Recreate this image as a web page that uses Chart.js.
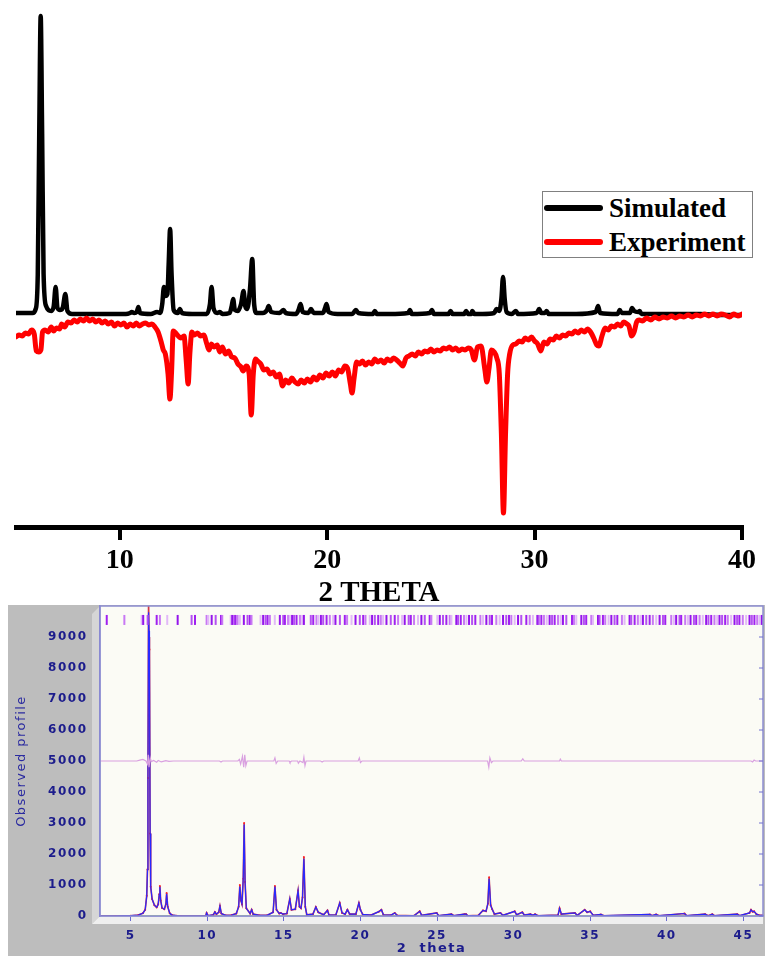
<!DOCTYPE html>
<html>
<head>
<meta charset="utf-8">
<script src="https://cdn.jsdelivr.net/npm/chart.js@4.4.1/dist/chart.umd.min.js"></script>
<style>
  body { margin: 0; background: #fff; }
  #wrap { position: relative; width: 765px; height: 956px; overflow: hidden; }
  #xrd { position: absolute; left: 0; top: 0; }
  #rietveld { position: absolute; left: 0; top: 605px; }
  #leyenda {
    position: absolute; left: 542px; top: 191px; width: 209px; height: 65px;
    border: 1px solid #808080; background: #fff;
    font: bold 27px 'Liberation Serif', serif; color: #000;
  }
  #leyenda .fila { position: absolute; left: 0; height: 32px; line-height: 32px; white-space: nowrap; }
  #leyenda .muestra { position: absolute; left: 1px; top: 13px; width: 59px; height: 6px; border-radius: 3px; }
  #leyenda .texto { position: absolute; left: 66px; top: 0; }
</style>
</head>
<body>
<div id="wrap">
  <canvas id="xrd" width="765" height="612"></canvas>
  <div id="leyenda"></div>
  <canvas id="rietveld" width="765" height="351"></canvas>
</div>
<script>
// ---------- grafico de arriba: simulado vs experimental ----------
const simX = [
  5.0,5.8,5.95,6.05,6.12,6.19,6.26,6.33,6.45,6.7,
  6.82,6.91,7.0,7.12,7.25,7.38,7.48,7.7,8.5,9.5,
  10.3,10.5,10.58,10.7,10.82,10.9,10.98,11.5,11.8,11.95,
  12.05,12.13,12.2,12.3,12.36,12.43,12.5,12.6,12.8,12.9,
  13.0,13.5,14.2,14.35,14.43,14.52,14.7,14.83,14.95,15.3,
  15.4,15.47,15.55,15.7,15.85,15.97,16.05,16.15,16.28,16.39,
  16.48,16.6,16.9,17.1,17.18,17.3,17.7,17.9,18.0,18.5,
  18.62,18.72,18.82,19.1,19.22,19.35,19.8,19.9,19.97,20.07,
  20.5,21.2,21.3,21.39,21.5,22.2,22.3,22.4,23.0,23.9,
  23.99,24.08,24.95,25.05,25.15,25.85,25.95,26.05,26.6,26.7,
  26.8,26.95,27.0,27.1,27.5,28.05,28.17,28.3,28.4,28.48,
  28.56,28.65,28.9,29.1,29.2,30.1,30.22,30.32,30.5,30.58,
  30.68,31.5,32.0,32.95,33.06,33.16,34.0,34.11,34.2,34.6,
  34.7,34.8,35.0,35.07,35.15,36.0,37.0,38.0,39.0,40.0
];
const simY = [
  1,1,5,40,180,298,180,40,8,3,
  8,27,6,4,6,20,3,0,0,0,
  0,1,2,1,2,7,1,0,2,1,
  10,27,18,20,50,85,40,4,1,5,
  1,0,0,10,27,6,1,2,0,1,
  8,15,4,3,10,23,8,5,25,55,
  10,1,1,4,8,2,1,4,1,0,
  4,10,2,1,5,1,1,6,10,2,
  0,0,2,4,1,0,3,0,0,1,
  4,0,1,4,0,0,3,0,0,3,
  0,0,3,0,0,1,5,3,15,37,
  15,2,0,3,0,1,5,1,1,3,
  0,0,0,2,8,1,0,4,1,1,
  6,3,2,3,0,0,0,0,-1,-1
];
const expX = [
  5.0,5.15,5.3,5.45,5.6,5.75,5.88,5.98,6.1,6.2,
  6.28,6.4,6.55,6.7,6.82,6.95,7.1,7.2,7.35,7.5,
  7.65,7.8,7.95,8.1,8.25,8.4,8.55,8.7,8.85,9.0,
  9.15,9.3,9.45,9.6,9.75,9.9,10.05,10.2,10.35,10.5,
  10.65,10.8,10.95,11.1,11.25,11.4,11.55,11.7,11.85,12.0,
  12.1,12.2,12.33,12.42,12.5,12.58,12.7,12.82,12.95,13.1,
  13.2,13.3,13.38,13.48,13.6,13.75,13.9,14.05,14.2,14.3,
  14.42,14.55,14.7,14.82,14.95,15.1,15.25,15.4,15.55,15.7,
  15.85,15.95,16.1,16.24,16.34,16.44,16.55,16.65,16.8,16.95,
  17.1,17.25,17.4,17.55,17.7,17.85,18.0,18.15,18.3,18.45,
  18.6,18.75,18.9,19.05,19.2,19.35,19.5,19.65,19.8,19.95,
  20.1,20.25,20.4,20.55,20.7,20.85,20.98,21.12,21.2,21.3,
  21.42,21.55,21.7,21.85,22.0,22.15,22.3,22.45,22.6,22.75,
  22.9,23.05,23.2,23.35,23.5,23.65,23.8,23.95,24.1,24.25,
  24.4,24.55,24.7,24.85,25.0,25.15,25.3,25.45,25.6,25.75,
  25.9,26.05,26.2,26.35,26.5,26.65,26.8,26.95,27.1,27.25,
  27.42,27.6,27.7,27.8,27.92,28.05,28.18,28.3,28.4,28.5,
  28.6,28.7,28.8,28.95,29.1,29.25,29.4,29.55,29.7,29.85,
  30.0,30.15,30.3,30.45,30.6,30.75,30.9,31.05,31.2,31.35,
  31.5,31.65,31.8,31.95,32.1,32.25,32.4,32.55,32.7,32.85,
  33.0,33.1,33.25,33.4,33.55,33.7,33.85,34.0,34.15,34.3,
  34.45,34.55,34.68,34.8,34.92,35.05,35.2,35.4,35.6,35.8,
  36.0,36.2,36.4,36.6,36.8,37.0,37.2,37.4,37.6,37.8,
  38.0,38.2,38.4,38.6,38.8,39.0,39.2,39.4,39.6,39.8,
  40.0
];
const expY = [
  -23,-21,-22,-19,-20,-16,-20,-37,-38,-36,
  -18,-16,-18,-13,-17,-14,-15,-10,-13,-8,
  -9,-6,-8,-5,-7,-4,-7,-5,-8,-6,
  -9,-7,-10,-8,-12,-9,-11,-9,-13,-10,
  -12,-9,-12,-10,-9,-11,-10,-13,-18,-28,
  -36,-40,-60,-85,-58,-17,-19,-22,-24,-22,
  -45,-70,-40,-18,-21,-19,-22,-21,-30,-36,
  -30,-33,-31,-38,-33,-40,-37,-43,-44,-50,
  -53,-57,-52,-60,-101,-60,-45,-47,-50,-56,
  -55,-60,-58,-63,-60,-72,-66,-69,-64,-68,
  -70,-66,-69,-65,-68,-63,-66,-61,-64,-59,
  -62,-58,-62,-56,-58,-52,-54,-70,-79,-64,
  -48,-50,-47,-51,-48,-50,-45,-48,-46,-49,
  -45,-47,-44,-46,-49,-52,-44,-42,-40,-42,
  -38,-40,-37,-38,-35,-38,-36,-37,-34,-35,
  -33,-36,-34,-37,-35,-36,-34,-36,-46,-33,
  -32,-55,-68,-55,-36,-38,-44,-60,-120,-199,
  -120,-60,-40,-31,-30,-27,-28,-24,-26,-23,
  -27,-30,-37,-28,-30,-25,-26,-22,-24,-21,
  -22,-19,-20,-17,-19,-16,-18,-15,-18,-24,
  -31,-32,-22,-14,-16,-12,-13,-10,-12,-8,
  -10,-12,-22,-18,-8,-6,-7,-4,-6,-3,
  -5,-3,-4,-2,-4,-2,-3,-1,-3,-1,
  -2,0,-2,0,-2,0,-1,-3,0,-2,
  0
];
const xTicksTop = [10, 20, 30, 40];

// ---------- grafico de abajo: refinamiento ----------
const profX = [
  3.0,4.0,5.0,5.5,5.8,5.95,6.05,6.1,6.13,6.17,
  6.2,6.23,6.27,6.31,6.4,6.55,6.7,6.8,6.87,6.91,
  6.96,7.05,7.2,7.3,7.35,7.42,7.55,7.7,8.0,8.3,
  9.9,9.96,10.05,10.4,10.5,10.6,10.75,10.83,10.92,11.2,
  11.6,11.9,12.05,12.13,12.2,12.27,12.35,12.41,12.47,12.55,
  12.8,12.9,13.0,13.4,13.9,14.3,14.42,14.52,14.7,14.8,
  14.95,15.2,15.39,15.5,15.75,15.93,16.02,16.12,16.22,16.31,
  16.4,16.5,16.9,17.09,17.25,17.6,17.85,17.95,18.4,18.65,
  18.8,19.0,19.15,19.3,19.7,19.9,20.0,20.15,20.7,21.2,
  21.37,21.5,22.0,22.24,22.4,23.5,23.87,24.0,24.98,25.1,
  25.94,26.1,26.8,26.9,27.0,27.7,28.0,28.2,28.32,28.4,
  28.5,28.6,28.75,29.14,29.3,30.07,30.2,30.57,30.7,31.1,
  31.25,31.4,31.6,32.9,33.0,33.12,34.0,34.15,34.64,34.8,
  35.0,35.2,35.7,35.9,38.9,39.05,39.3,39.5,41.16,41.3,
  42.5,42.7,42.97,43.1,44.6,44.75,45.4,45.5,45.6,45.7,
  45.85,46.0,46.28
];
const obsY = [
  0,0,10,30,90,200,650,1500,4450,10200,
  9000,8600,2660,945,550,350,280,380,700,970,
  500,260,220,380,740,300,90,30,10,0,
  0,100,10,40,130,60,120,320,80,20,
  30,80,300,1000,500,380,1200,3000,1100,250,
  80,200,60,20,20,120,970,200,80,100,
  60,80,550,200,220,820,300,250,600,1900,
  300,40,60,290,120,40,180,30,40,420,
  100,60,200,60,60,420,200,50,30,140,
  200,40,30,100,20,10,150,20,100,10,
  60,10,60,60,10,20,180,150,400,1250,
  350,220,60,100,20,150,40,120,30,60,
  20,60,10,30,250,60,100,20,200,120,
  150,20,50,10,50,10,50,10,80,10,
  60,10,60,10,60,10,100,200,140,150,
  60,30,20
];
const calcY = [
  0,0,10,30,90,200,650,1500,4450,9800,
  9200,8400,2660,945,550,350,280,380,700,940,
  500,260,220,380,720,300,90,30,10,0,
  0,100,10,40,130,60,120,320,80,20,
  30,80,300,950,500,380,1200,2950,1100,250,
  80,200,60,20,20,120,950,200,80,100,
  60,80,550,200,220,820,300,250,600,1850,
  300,40,60,290,120,40,180,30,40,420,
  100,60,200,60,60,420,200,50,30,140,
  200,40,30,100,20,10,150,20,100,10,
  60,10,60,60,10,20,180,150,400,1200,
  350,220,60,100,20,150,40,120,30,60,
  20,60,10,30,250,60,100,20,200,120,
  150,20,50,10,50,10,50,10,80,10,
  60,10,60,10,60,10,100,200,140,150,
  60,30,20
];
const diffX = [
  3,5.4,5.6,5.8,6.0,6.1,6.15,6.2,6.28,6.35,
  6.5,6.7,6.8,7.0,7.3,7.5,7.8,10.8,10.9,11.0,
  12.0,12.1,12.18,12.3,12.38,12.45,12.52,12.6,14.35,14.42,
  14.5,14.6,15.35,15.4,15.5,15.9,15.95,16.05,16.25,16.31,
  16.38,16.45,17.4,17.5,17.6,19.85,19.93,20.0,20.1,28.3,
  28.38,28.45,28.55,28.65,30.5,30.6,30.7,33.0,33.05,33.12,
  45.5,45.6,45.7,45.8,46.28
];
const diffY = [
  5000,5000,5030,5050,5000,4900,5200,4800,5100,4980,
  5020,4960,5020,4970,5010,4990,5000,5000,4970,5000,
  5000,5050,4900,5150,4800,5200,4850,5000,5000,5100,
  4920,5000,5000,4950,5000,5000,4930,5000,4950,5120,
  4850,5000,5000,4970,5000,5000,5100,4950,5000,5000,
  4800,5100,4950,5000,5000,5070,5000,5000,5060,5000,
  5000,4970,5030,5000,5000
];
const bgX = [3, 46.28];
const bgY = [0, 0];
// posiciones de reflexiones (marcas de arriba)
const reflPos = [
  3.44,4.59,5.72,5.82,6.11,6.70,6.91,7.39,8.07,8.98,9.20,9.96,10.07,10.29,10.55,10.90,10.98,
  11.53,11.63,11.76,11.85,11.98,12.13,12.39,12.63,12.78,12.89,13.48,13.65,13.81,13.94,14.09,
  14.41,14.74,14.96,15.07,15.28,15.39,15.54,15.67,15.83,16.05,16.20,16.31,16.76,16.92,
  17.13,17.24,17.42,17.57,17.79,18.0,18.22,18.37,18.66,18.98,19.13,19.42,19.68,19.96,20.18,
  20.33,20.61,20.76,20.94,21.16,21.33,21.48,21.70,21.98,22.24,22.46,22.72,22.89,23.15,23.29,
  23.50,23.76,23.98,24.20,24.52,24.63,25.02,25.18,25.39,25.61,25.83,25.94,26.26,26.37,26.55,
  26.76,26.92,27.09,27.29,27.50,27.83,28.0,28.22,28.44,28.59,28.87,29.09,29.31,29.52,29.70,
  29.85,30.07,30.29,30.50,30.83,31.05,31.26,31.55,31.64,31.81,31.98,32.16,32.35,32.51,32.68,
  32.90,33.07,33.22,33.44,33.81,33.94,34.09,34.42,34.59,34.74,35.07,35.18,35.51,35.61,35.83,
  35.98,36.20,36.38,36.59,36.77,37.07,37.24,37.57,37.68,37.90,38.11,38.29,38.44,38.66,38.88,
  39.09,39.31,39.53,39.75,39.90,40.29,40.46,40.61,40.83,40.94,41.20,41.38,41.55,41.77,41.92,
  42.14,42.35,42.57,42.72,42.90,43.11,43.29,43.44,43.61,43.81,43.98,44.20,44.42,44.59,44.74,
  44.96,45.18,45.40,45.55,45.72,45.90,46.05,46.20
];
const reflLevel = 9550;
const xTicksBottom = [5, 10, 15, 20, 25, 30, 35, 40, 45];
const yTicksBottom = [0, 1000, 2000, 3000, 4000, 5000, 6000, 7000, 8000, 9000];

const puntos = (xs, ys) => xs.map((x, i) => ({ x: x, y: ys[i] }));
// sin relleno extra alrededor de los ejes
const sinRelleno = (s) => { s.paddingTop = 0; s.paddingBottom = 0; s.paddingLeft = 0; s.paddingRight = 0; };

// ===== grafico 1 =====
const serif = 'Liberation Serif';
const grafico1 = new Chart(document.getElementById('xrd'), {
  type: 'scatter',
  data: {
    datasets: [
      {
        label: 'Simulated',
        data: puntos(simX, simY),
        showLine: true,
        borderColor: '#000000',
        borderWidth: 4.5,
        pointRadius: 0,
        cubicInterpolationMode: 'monotone',
        borderCapStyle: 'round',
        borderJoinStyle: 'round',
        order: 2
      },
      {
        label: 'Experiment',
        data: puntos(expX, expY),
        showLine: true,
        borderColor: '#ff0000',
        borderWidth: 5,
        pointRadius: 0,
        cubicInterpolationMode: 'monotone',
        borderCapStyle: 'round',
        borderJoinStyle: 'round',
        order: 1
      }
    ]
  },
  options: {
    responsive: false,
    animation: false,
    events: [],
    layout: { autoPadding: false, padding: { left: 16, right: 23, top: 10, bottom: 0 } },
    plugins: { legend: { display: false }, tooltip: { enabled: false } },
    scales: {
      x: {
        type: 'linear',
        min: 5,
        max: 40,
        afterBuildTicks: (s) => { s.ticks = xTicksTop.map(v => ({ value: v })); },
        afterFit: (s) => { s.height = 85; sinRelleno(s); },
        border: { display: true, color: '#000', width: 5 },
        grid: { drawOnChartArea: false, drawTicks: true, tickLength: 13, lineWidth: 4, color: '#000' },
        ticks: { color: '#000', padding: 4, font: { family: serif, weight: 'bold', size: 28 } },
        title: {
          display: true, text: '2 THETA', color: '#000',
          padding: { top: 0, bottom: 1 },
          font: { family: serif, weight: 'bold', size: 29 }
        }
      },
      y: { display: false, min: -213, max: 304 }
    }
  }
});

// leyenda en html, armada con los datos del grafico
const leyenda = document.getElementById('leyenda');
grafico1.data.datasets.forEach((ds, i) => {
  const fila = document.createElement('div');
  fila.className = 'fila';
  fila.style.top = (i * 34) + 'px';
  const muestra = document.createElement('span');
  muestra.className = 'muestra';
  muestra.style.background = ds.borderColor;
  const texto = document.createElement('span');
  texto.className = 'texto';
  texto.textContent = ds.label;
  fila.appendChild(muestra);
  fila.appendChild(texto);
  leyenda.appendChild(fila);
});

// ===== grafico 2 =====
const azul = '#1c1c8c';
const fondo3D = {
  id: 'fondo3D',
  beforeDraw(chart) {
    const { ctx, width, height, chartArea: a } = chart;
    ctx.save();
    ctx.fillStyle = '#bdbdbd';
    ctx.fillRect(8, 0, width - 8, height);
    // pared izquierda
    ctx.fillStyle = '#d6d6d6';
    ctx.beginPath();
    ctx.moveTo(a.left - 8, a.top + 8);
    ctx.lineTo(a.left, a.top);
    ctx.lineTo(a.left, a.bottom);
    ctx.lineTo(a.left - 8, a.bottom + 8);
    ctx.closePath();
    ctx.fill();
    // piso
    ctx.fillStyle = '#efefef';
    ctx.beginPath();
    ctx.moveTo(a.left, a.bottom);
    ctx.lineTo(a.right, a.bottom);
    ctx.lineTo(a.right, a.bottom + 8);
    ctx.lineTo(a.left - 8, a.bottom + 8);
    ctx.closePath();
    ctx.fill();
    ctx.fillStyle = '#fbfbf5';
    ctx.fillRect(a.left, a.top, a.right - a.left, a.bottom - a.top);
    ctx.restore();
    ctx.letterSpacing = '1.5px';
  },
  afterDraw(chart) {
    const { ctx, chartArea: a, scales } = chart;
    ctx.save();
    ctx.strokeStyle = '#8c8cd0';
    ctx.lineWidth = 1.5;
    ctx.strokeRect(a.left, a.top, a.right - a.left, a.bottom - a.top);
    ctx.strokeStyle = '#7070d0';
    ctx.lineWidth = 1;
    yTicksBottom.forEach(v => {
      const y = scales.y.getPixelForValue(v);
      ctx.beginPath();
      ctx.moveTo(a.right - 4, y);
      ctx.lineTo(a.right, y);
      ctx.stroke();
    });
    ctx.restore();
  }
};

const coloresMarca = ['#a020f0', '#c878f4', '#e2b8f8', '#9414ec', '#b450f2'];

const grafico2 = new Chart(document.getElementById('rietveld'), {
  type: 'scatter',
  data: {
    datasets: [
      {
        label: 'reflexiones',
        data: reflPos.map(x => ({ x: x, y: reflLevel })),
        pointStyle: 'line',
        rotation: 90,
        radius: 5,
        borderWidth: 2,
        borderColor: (c) => coloresMarca[c.dataIndex % coloresMarca.length],
        order: 0
      },
      {
        label: 'diferencia',
        data: puntos(diffX, diffY),
        showLine: true,
        pointRadius: 0,
        borderColor: '#d9a0e0',
        borderWidth: 1.2,
        order: 1
      },
      {
        label: 'calculado',
        data: puntos(profX, calcY),
        showLine: true,
        pointRadius: 0,
        borderColor: '#2828ff',
        borderWidth: 1.2,
        order: 2
      },
      {
        label: 'observado',
        data: puntos(profX, obsY),
        showLine: true,
        pointRadius: 1,
        pointBackgroundColor: '#ff2020',
        pointBorderWidth: 0,
        borderColor: 'rgba(200,20,40,0.85)',
        borderWidth: 1.6,
        order: 3
      },
      {
        label: 'fondo',
        data: puntos(bgX, bgY),
        showLine: true,
        pointRadius: 0,
        borderColor: '#a8dc80',
        borderWidth: 2,
        order: 4
      }
    ]
  },
  options: {
    responsive: false,
    animation: false,
    events: [],
    layout: { autoPadding: false, padding: { left: 0, right: 2, top: 1, bottom: 0 } },
    plugins: { legend: { display: false }, tooltip: { enabled: false } },
    scales: {
      x: {
        type: 'linear',
        min: 3,
        max: 46.28,
        afterBuildTicks: (s) => { s.ticks = xTicksBottom.map(v => ({ value: v })); },
        afterFit: (s) => { s.height = 40; sinRelleno(s); },
        border: { display: true, color: '#8080d8', width: 1.5 },
        grid: { drawOnChartArea: false, drawTicks: true, tickLength: 5, color: '#6a6ad0' },
        ticks: {
          color: azul, padding: 8,
          callback: (v) => String(v),
          font: { family: 'DejaVu Sans', weight: 'bold', size: 12 }
        },
        title: {
          display: true, text: '2  theta', color: azul,
          padding: { top: 0, bottom: 0 },
          font: { family: 'DejaVu Sans', weight: 'bold', size: 13 }
        }
      },
      y: {
        min: 0,
        max: 10000,
        afterBuildTicks: (s) => { s.ticks = yTicksBottom.map(v => ({ value: v })); },
        afterFit: (s) => { s.width = 100; sinRelleno(s); },
        border: { display: true, color: '#8080d8', width: 1.5 },
        grid: { drawOnChartArea: false, drawTicks: false },
        ticks: {
          color: azul, padding: 12.5,
          callback: (v) => String(v),
          font: { family: 'DejaVu Sans', weight: 'bold', size: 12 }
        },
        title: {
          display: true, text: 'Observed profile', color: '#2a2aa0',
          padding: { top: 14, bottom: 0 },
          font: { family: 'DejaVu Sans', size: 13 }
        }
      }
    }
  },
  plugins: [fondo3D]
});
</script>
</body>
</html>
